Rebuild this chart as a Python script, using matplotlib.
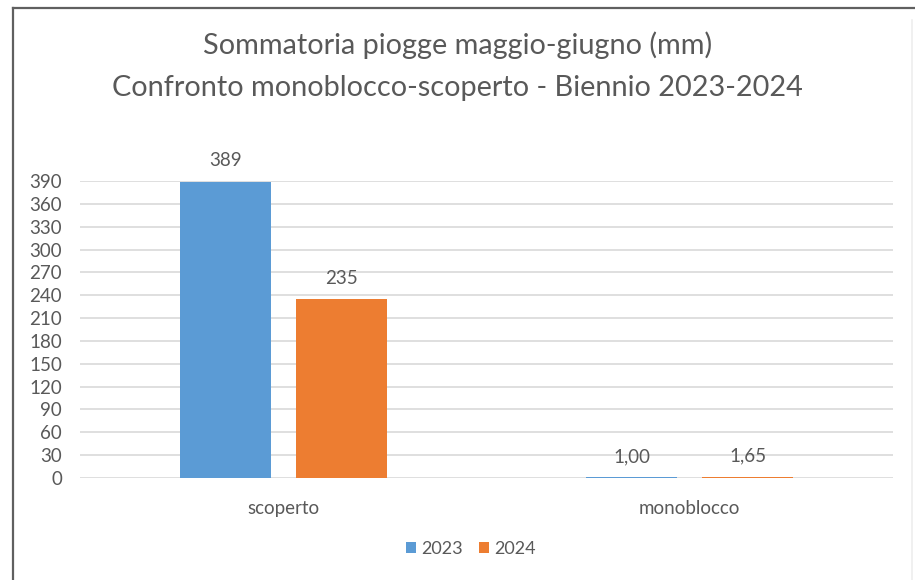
import matplotlib
matplotlib.use("Agg")
import matplotlib.pyplot as plt
from matplotlib.lines import Line2D
from matplotlib.patches import Patch
import numpy as np

# Data
categories = ["scoperto", "monoblocco"]
series_names = ["2023", "2024"]
values_2023 = [389, 1.00]
values_2024 = [235, 1.65]
y_ticks = list(range(0, 391, 30))

colors = ["#5B9BD5", "#ED7D31"]
text_color = "#595959"
grid_color = "#D9D9D9"

plt.rcParams["font.family"] = ["Lato", "DejaVu Sans"]

W, H = 915, 580
fig = plt.figure(figsize=(W / 100, H / 100), dpi=100)
fig.patch.set_facecolor("white")


def fx(px):
    return px / W


def fy(py):
    return 1 - py / H


# Outer frame: dark top and left edges, faint right edge
fig.add_artist(Line2D([fx(13), fx(915)], [fy(8), fy(8)], color="#606060", lw=1.6,
                      transform=fig.transFigure))
fig.add_artist(Line2D([fx(13), fx(13)], [fy(8), fy(580)], color="#606060", lw=1.6,
                      transform=fig.transFigure))
fig.add_artist(Line2D([fx(912), fx(912)], [fy(20), fy(580)], color="#EEEEEE", lw=1.2,
                      transform=fig.transFigure))

ax_left, ax_right = 80, 893
ax_top, ax_bottom = 181, 478
ax = fig.add_axes([fx(ax_left), fy(ax_bottom), fx(ax_right - ax_left),
                   (ax_bottom - ax_top) / H])

x = np.arange(len(categories))
width = 0.224
offset = 0.143


def fmt(v):
    return f"{v:.0f}" if v >= 10 else f"{v:.2f}".replace(".", ",")


for vals, sign, col in [(values_2023, -1, colors[0]), (values_2024, 1, colors[1])]:
    bars = ax.bar(x + sign * offset, vals, width=width, color=col, zorder=3)
    for b, v in zip(bars, vals):
        ax.annotate(fmt(v), (b.get_x() + b.get_width() / 2, v),
                    xytext=(0, 15), textcoords="offset points",
                    ha="center", va="center", fontsize=13.5, color=text_color,
                    annotation_clip=False)

ax.set_xlim(-0.5, 1.5)
ax.set_ylim(0, 390)
ax.set_yticks(y_ticks)
ax.set_yticklabels([str(t) for t in y_ticks])
ax.set_xticks(x)
ax.set_xticklabels(categories)
ax.tick_params(axis="both", length=0, labelsize=13.5, colors=text_color)
ax.tick_params(axis="y", pad=13)
ax.tick_params(axis="x", pad=16)
ax.yaxis.grid(True, color=grid_color, lw=1.2, zorder=0)
ax.set_axisbelow(True)
for s in ax.spines.values():
    s.set_visible(False)

# Title
fig.text(0.5, fy(45), "Sommatoria piogge maggio-giugno (mm)", ha="center", va="center",
         fontsize=20.8, color=text_color)
fig.text(0.5, fy(88), "Confronto monoblocco-scoperto - Biennio 2023-2024", ha="center",
         va="center", fontsize=20.8, color=text_color)

# Legend
handles = [Patch(facecolor=c, edgecolor="none") for c in colors]
fig.legend(handles, series_names, loc="center", bbox_to_anchor=(fx(471), fy(549)),
           ncol=2, frameon=False, fontsize=13, labelcolor=text_color,
           handlelength=0.55, handleheight=0.55, handletextpad=0.3, columnspacing=0.9)

fig.savefig("out.png", dpi=100, facecolor="white")
